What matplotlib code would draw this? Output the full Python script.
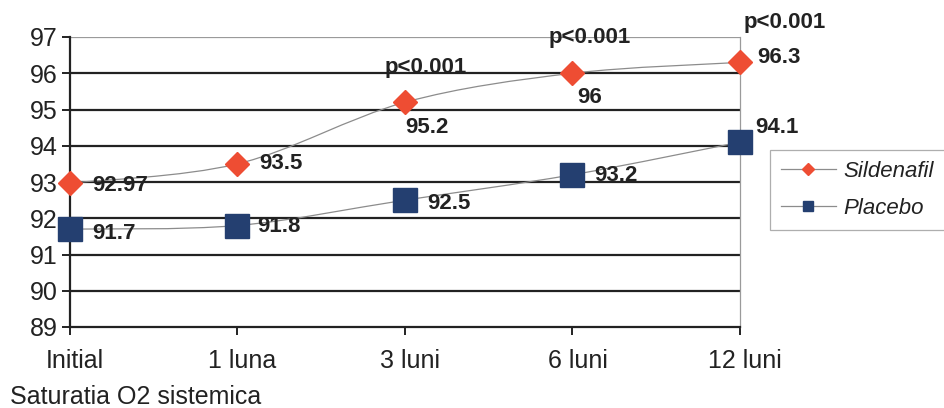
import matplotlib
matplotlib.use("Agg")
import matplotlib.pyplot as plt
from matplotlib.path import Path
from matplotlib.patches import PathPatch
from matplotlib.lines import Line2D
import matplotlib.transforms as mtrans
import numpy as np

plt.rcParams['font.family'] = ['Liberation Sans', 'DejaVu Sans']

categories = ["Initial", "1 luna", "3 luni", "6 luni", "12 luni"]
sildenafil = [92.97, 93.5, 95.2, 96.0, 96.3]
placebo = [91.7, 91.8, 92.5, 93.2, 94.1]
sild_labels = ["92.97", "93.5", "95.2", "96", "96.3"]
plac_labels = ["91.7", "91.8", "92.5", "93.2", "94.1"]
pvalue_labels = ["", "", "p<0.001", "p<0.001", "p<0.001"]
yticks = [89, 90, 91, 92, 93, 94, 95, 96, 97]

RED = "#EE4D33"
NAVY = "#243F70"
GRAY = "#8C8C8C"
TXT = "#222222"

fig = plt.figure(figsize=(9.45, 4.08), dpi=100)
ax = fig.add_axes([70/945, 1-327/408, 670/945, 290/408])
ax.set_xlim(0, 4)
ax.set_ylim(89, 97)

# grid lines
for v in yticks[1:-1]:
    ax.axhline(v, color=TXT, lw=1.6, zorder=1)
ax.axhline(97, color="#9A9A9A", lw=0.9, zorder=1)

ax.spines["top"].set_visible(False)
ax.spines["right"].set_color("#9A9A9A")
ax.spines["right"].set_linewidth(0.9)
ax.spines["left"].set_color(TXT)
ax.spines["left"].set_linewidth(1.6)
ax.spines["bottom"].set_color(TXT)
ax.spines["bottom"].set_linewidth(1.6)

ax.set_yticks(yticks)
ax.set_yticklabels([str(v) for v in yticks], fontsize=18, color=TXT)
ax.set_xticks(range(len(categories)))
ax.set_xticklabels(categories, fontsize=18, color=TXT)
ax.tick_params(axis="y", direction="out", length=6, width=1.4, color=TXT, pad=3)
ax.tick_params(axis="x", direction="out", length=6, width=1.4, color=TXT, pad=10)
off = mtrans.ScaledTranslation(5/100, 0, fig.dpi_scale_trans)
for lab in ax.get_xticklabels():
    lab.set_transform(lab.get_transform() + off)

def smooth_path(xs, ys):
    pts = np.column_stack([xs, ys]).astype(float)
    n = len(pts)
    verts = [pts[0]]
    codes = [Path.MOVETO]
    for i in range(n - 1):
        p0 = pts[i - 1] if i > 0 else pts[i]
        p1 = pts[i]
        p2 = pts[i + 1]
        p3 = pts[i + 2] if i + 2 < n else pts[i + 1]
        c1 = p1 + (p2 - p0) / 6.0
        c2 = p2 - (p3 - p1) / 6.0
        verts += [c1, c2, p2]
        codes += [Path.CURVE4] * 3
    return Path(verts, codes)

x = np.arange(len(categories))
for series in (sildenafil, placebo):
    patch = PathPatch(smooth_path(x, series), facecolor="none", edgecolor=GRAY,
                      lw=0.9, zorder=3, clip_on=False)
    ax.add_patch(patch)

ax.plot(x, sildenafil, linestyle="none", marker="D", markersize=12.5,
        color=RED, markeredgecolor=RED, zorder=5, clip_on=False)
ax.plot(x, placebo, linestyle="none", marker="s", markersize=17,
        color=NAVY, markeredgecolor=NAVY, zorder=5, clip_on=False)

lab_kw = dict(fontsize=16, fontweight="bold", color=TXT,
              textcoords="offset pixels", va="center", ha="left", zorder=6)
sild_off = [(22, -2), (22, 0), (0, -25), (5, -24), (17, 5)]
plac_off = [(22, -4), (20, -1), (22, -3), (22, -1), (15, 15)]
for i in range(len(categories)):
    ax.annotate(sild_labels[i], (x[i], sildenafil[i]), xytext=sild_off[i], **lab_kw)
    ax.annotate(plac_labels[i], (x[i], placebo[i]), xytext=plac_off[i], **lab_kw)

p_off = [(0, 0), (0, 0), (21, 35), (17, 36), (45, 40)]
for i, t in enumerate(pvalue_labels):
    if t:
        ax.annotate(t, (x[i], sildenafil[i]), xytext=p_off[i], textcoords="offset pixels",
                    fontsize=16, fontweight="bold", color=TXT,
                    ha="center", va="center", zorder=6, annotation_clip=False)

handles = [
    Line2D([], [], color=GRAY, lw=0.9, marker="D", markersize=6, markerfacecolor=RED,
           markeredgecolor=RED),
    Line2D([], [], color=GRAY, lw=0.9, marker="s", markersize=7, markerfacecolor=NAVY,
           markeredgecolor=NAVY),
]
leg = fig.legend(handles, ["Sildenafil", "Placebo"], loc="upper left",
                 bbox_to_anchor=(770/945, 1-150/408), frameon=True, fancybox=False,
                 edgecolor="#9A9A9A", prop=dict(size=16, style="italic"),
                 handlelength=2.45, borderpad=0.5, labelspacing=0.7, handletextpad=0.35,
                 borderaxespad=0)
leg.get_frame().set_linewidth(0.9)
for t in leg.get_texts():
    t.set_color(TXT)

fig.text(10/945, 1-397/408, "Saturatia O2 sistemica", fontsize=18, color=TXT,
         ha="left", va="center")

fig.savefig("out.png", dpi=100)
